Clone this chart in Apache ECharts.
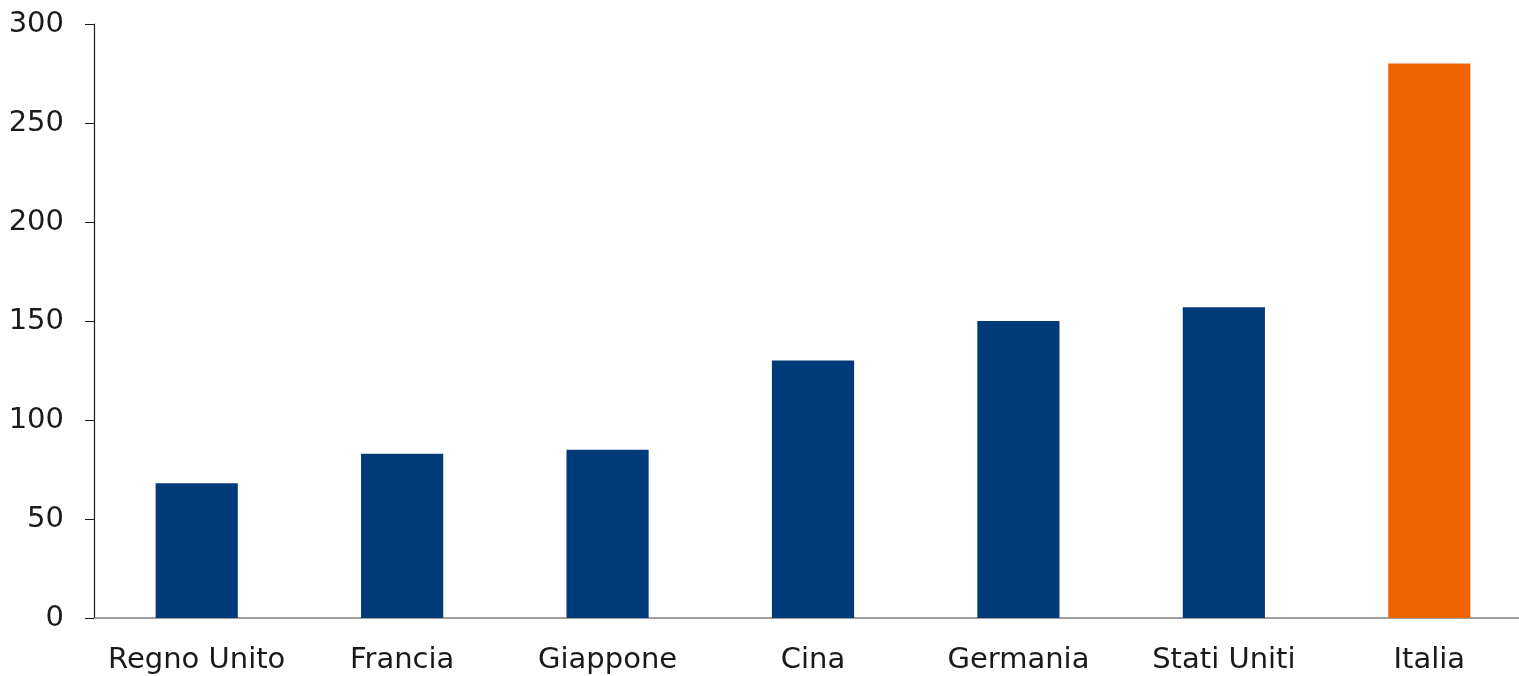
<!DOCTYPE html>
<html><head><meta charset="utf-8">
<script src="https://cdn.jsdelivr.net/npm/echarts@6/dist/echarts.min.js"></script>
<style>html,body{margin:0;padding:0;background:#fff}#c{width:1519px;height:676px}</style>
</head><body><div id="c"></div>
<script>
var categories = ["Regno Unito","Francia","Giappone","Cina","Germania","Stati Uniti","Italia"];
var values = [68, 83, 85, 130, 150, 157, 280];
var highlightCategory = "Italia";
var yTicks = [0, 50, 100, 150, 200, 250, 300];

var font = '"DejaVu Sans", sans-serif';
var chart = echarts.init(document.getElementById('c'));
chart.setOption({
  animation: false,
  grid: {left: 94, width: 1438, top: 24, bottom: 58, containLabel: false, outerBoundsMode: 'none'},
  xAxis: {
    type: 'category', data: categories,
    axisLine: {lineStyle: {color: '#7f7f7f', width: 1.5}},
    axisTick: {show: false},
    axisLabel: {interval: 0, color: '#1a1a1a', fontSize: 29, fontFamily: font, margin: 28}
  },
  yAxis: {
    type: 'value', min: yTicks[0], max: yTicks[yTicks.length-1], interval: 50,
    axisLine: {show: true, lineStyle: {color: '#1a1a1a', width: 1.2}},
    axisTick: {show: true, length: 9, lineStyle: {color: '#1a1a1a'}},
    splitLine: {show: false},
    axisLabel: {color: '#1a1a1a', fontSize: 29, fontFamily: font, margin: 30}
  },
  series: [{
    type: 'bar', barWidth: '40%',
    data: values.map(function(v, i){
      return {value: v, itemStyle: {color: categories[i] === highlightCategory ? '#EE6400' : '#003A78'}};
    })
  }]
});
</script></body></html>
